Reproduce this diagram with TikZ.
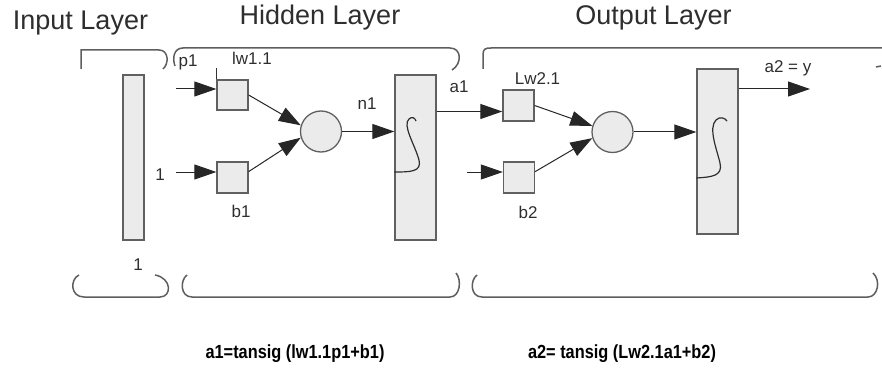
\documentclass[tikz,border=0pt]{standalone}
\usepackage{fontspec}
\setmainfont{Liberation Sans}
\usetikzlibrary{arrows.meta,calc}
\definecolor{boxfill}{HTML}{EBEBEB}
\definecolor{boxline}{HTML}{606060}
\definecolor{txt}{HTML}{2E2E2E}
\definecolor{brk}{HTML}{5E5E5E}
\begin{document}
\begin{tikzpicture}[x=1pt,y=-1pt,
  title/.style={font=\fontsize{27}{30}\selectfont, text=txt, anchor=base, inner sep=0pt},
  lbl/.style={font=\fontsize{17}{20}\selectfont, text=txt, anchor=base, inner sep=0pt},
  formula/.style={font=\fontsize{19}{22}\selectfont\bfseries, text=black, anchor=base, inner sep=0pt},
  colbox/.style={draw=boxline, fill=boxfill, line width=1.3pt, inner sep=0pt, minimum width=#1, minimum height=165pt},
  wbox/.style={draw=boxline, fill=boxfill, line width=1.3pt, inner sep=0pt, minimum size=31pt},
  sumnode/.style={circle, draw=boxline, fill=boxfill, line width=1.3pt, inner sep=0pt, minimum size=41pt},
  conn/.style={draw=black!85, line width=1pt, -{Triangle[length=22pt,width=15pt]}},
  plain/.style={draw=black!80, line width=1pt},
  brace/.style={draw=brk, line width=1.5pt},
  sig/.style={draw=txt, line width=1.2pt}]
\useasboundingbox (0,0) rectangle (882,374);

% titles
\node[title] (tin) at (80.5,30) {Input Layer};
\node[title] (thid) at (320,25) {Hidden Layer};
\node[title] (tout) at (653.5,25) {Output Layer};

% top brackets
\draw[brace] (81,69) -- (81,50) -- (159,50) .. controls (169,50) and (169,64) .. (163,69);
\draw[brace] (175,66) .. controls (172,58) and (174,48) .. (183,48) -- (450,48) .. controls (462,48) and (462,64) .. (452,70);
\draw[brace] (483,69) -- (483,55) .. controls (483,49) and (485,48) .. (491,48) -- (882,48);
\draw[brace] (876,67) -- (881,66);

% bottom brackets
\draw[brace] (79,275) .. controls (70,279) and (70,297) .. (84,297) -- (160,297) .. controls (172,297) and (172,278) .. (155,275);
\draw[brace] (187,275) .. controls (180,280) and (180,297) .. (192,297) -- (450,297) .. controls (460,297) and (462,280) .. (456,273);
\draw[brace] (477,275) .. controls (470,280) and (470,297) .. (482,297) -- (868,297) .. controls (878,297) and (881,280) .. (873,273);

% input column
\node[colbox=21pt] (inp) at (133.5,157.5) {};
\node[lbl] (one2) at (138,270) {1};

% hidden layer
\node[wbox, minimum height=30pt] (w1) at (232.5,95) {};
\node[wbox] (b1) at (232.5,177.5) {};
\node[sumnode] (c1) at (321,131.5) {};
\node[colbox=41pt] (h1) at (415.5,157.5) {};

\node[lbl] (lp1) at (188,67) {p1};
\node[lbl] (lw1) at (252,65) {lw1.1};
\node[lbl] (lone) at (160,180) {1};
\node[lbl] (lb1) at (241,217) {b1};
\node[lbl] (ln1) at (367,110) {n1};
\node[lbl] (la1) at (459,93) {a1};

\coordinate (p1s) at (176,89);
\coordinate (ones) at (176,172);
\draw[conn] (p1s) -- (p1s -| w1.west);
\draw[conn] (ones) -- (ones -| b1.west);
\draw[plain] (w1.north west) -- ++(0,-11);
\draw[conn] (w1.east) -- (c1.163);
\draw[conn] (b1.20) -- (c1.197);
\draw[conn] (c1.east) -- (c1.east -| h1.west);
\draw[sig] (h1.west |- 0,172) .. controls (410,172) and (422,172) .. (419,160)
  .. controls (415,145) and (402,125) .. (409,119) .. controls (412,116) and (415,118) .. (416,121);

% output layer
\node[wbox] (w2) at (518.5,105.5) {};
\node[wbox] (b2) at (519,177.5) {};
\node[sumnode] (c2) at (612.5,132) {};
\node[colbox=41pt] (o1) at (717.5,151.5) {};

\node[lbl] (lw2) at (537.5,85) {Lw2.1};
\node[lbl] (lb2) at (528,218) {b2};
\node[lbl] (la2) at (788,73) {a2 = y};

\coordinate (a1y) at (0,111.5);
\coordinate (b2s) at (467,172);
\coordinate (outy) at (810,89);
\draw[conn] (a1y -| h1.east) -- (a1y -| w2.west);
\draw[conn] (b2s) -- (b2s -| b2.west);
\draw[conn] (w2.east) -- (c2.163);
\draw[conn] (b2.20) -- (c2.197);
\draw[conn] (c2.east) -- (c2.east -| o1.west);
\draw[conn] (outy -| o1.east) -- (outy);
\draw[sig] (o1.west |- 0,178) .. controls (712,177) and (723,176) .. (720,163)
  .. controls (717,150) and (708,128) .. (716,120) .. controls (720,116) and (725,118) .. (727,121);

% formulas
\node[formula] (f1) at (295,358) {\scalebox{0.86}[1]{a1=tansig (lw1.1p1+b1)}};
\node[formula] (f2) at (622,358) {\scalebox{0.86}[1]{a2= tansig (Lw2.1a1+b2)}};
\end{tikzpicture}
\end{document}
